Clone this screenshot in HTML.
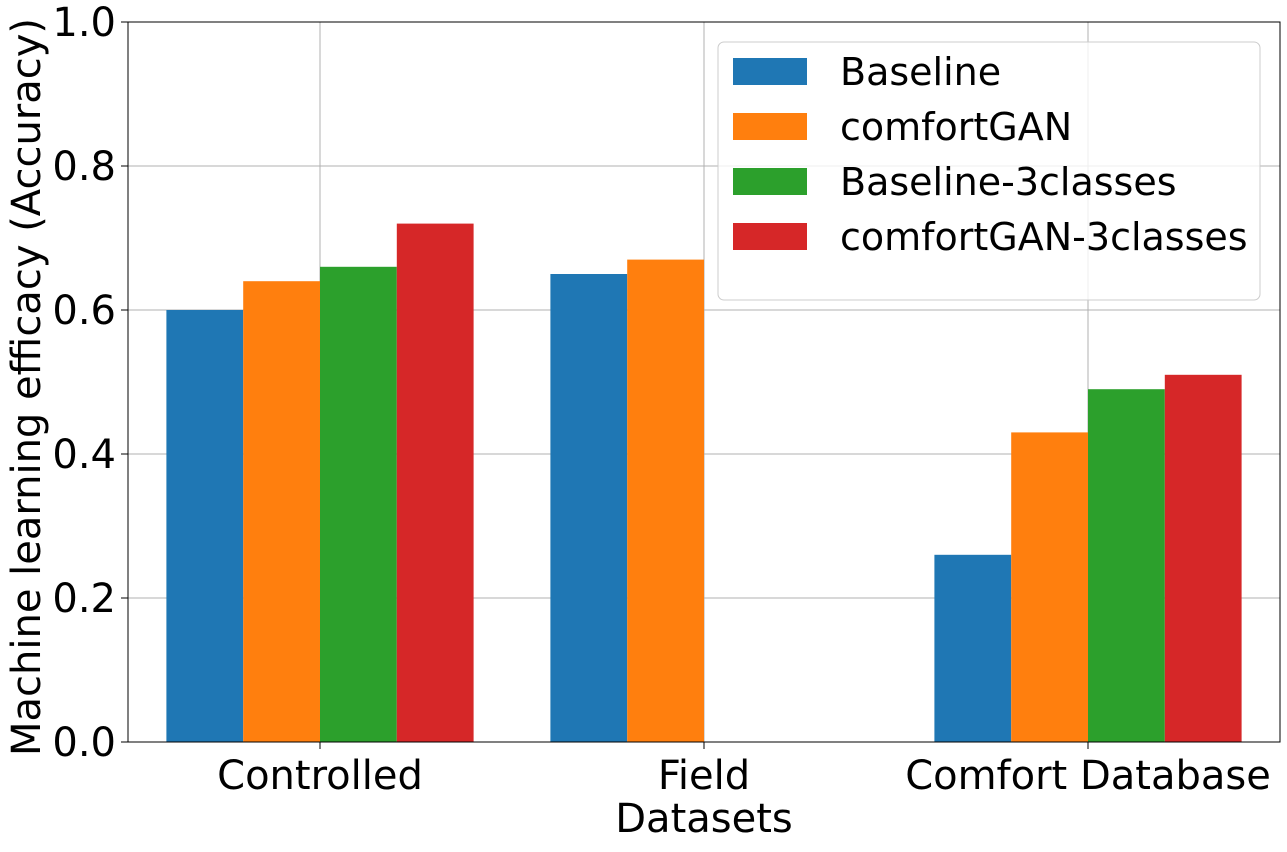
<!DOCTYPE html>
<html><head><meta charset="utf-8"><style>
body{margin:0;background:#fff}
text{font-family:"DejaVu Sans","Liberation Sans",sans-serif;fill:#000}
</style></head><body>
<svg id="chart" width="1287" height="847" xmlns="http://www.w3.org/2000/svg">
<g id="grid"></g>
<g id="bars"></g>
<rect x="128" y="22" width="1152" height="720" fill="none" stroke="#000" stroke-width="1"/>
<g id="axes"></g>
<text x="704" y="832" font-size="40" text-anchor="middle">Datasets</text>
<text transform="translate(40,387) rotate(-90)" font-size="40" text-anchor="middle">Machine learning efficacy (Accuracy)</text>
<g id="legend"></g>
</svg>
<script>
const categories=["Controlled","Field","Comfort Database"];
const seriesNames=["Baseline","comfortGAN","Baseline-3classes","comfortGAN-3classes"];
const baseline=[0.60,0.65,0.26];
const comfortGAN=[0.64,0.67,0.43];
const baseline3=[0.66,0,0.49];
const comfortGAN3=[0.72,0,0.51];
const yTicks=[0.0,0.2,0.4,0.6,0.8,1.0];
const colors=["#1f77b4","#ff7f0e","#2ca02c","#d62728"];
const series=[baseline,comfortGAN,baseline3,comfortGAN3];
const L=128,R=1280,T=22,B=742;
const xs=v=>L+(v+0.5)/3*(R-L);
const ys=v=>B-v*(B-T);
const NS="http://www.w3.org/2000/svg";
function mk(tag,attrs,parent){const e=document.createElementNS(NS,tag);for(const k in attrs)e.setAttribute(k,attrs[k]);parent.appendChild(e);return e;}
const grid=document.getElementById('grid'),bars=document.getElementById('bars'),axes=document.getElementById('axes'),leg=document.getElementById('legend');
yTicks.forEach(t=>{
 const g=mk('line',{x1:L,x2:R,y1:ys(t),y2:ys(t),stroke:'#b0b0b0','stroke-width':1},grid);
 
 
 const tk=mk('line',{x1:L-7,x2:L,y1:ys(t),y2:ys(t),stroke:'#000'},axes);
 
 
 const tx=mk('text',{x:L-12,y:ys(t)+14,'font-size':40,'text-anchor':'end'},axes);
 tx.textContent=t.toFixed(1);
 
 
});
categories.forEach((c,i)=>{
 const g=mk('line',{x1:xs(i),x2:xs(i),y1:T,y2:B,stroke:'#b0b0b0','stroke-width':1},grid);
 
 
 const tk=mk('line',{x1:xs(i),x2:xs(i),y1:B,y2:B+7,stroke:'#000'},axes);
 
 
 const tx=mk('text',{x:xs(i),y:789,'font-size':40,'text-anchor':'middle'},axes);
 tx.textContent=c;
 
 
});
series.forEach((s,j)=>{
 s.forEach((v,i)=>{
  const x0=xs(i-0.4+0.2*j),x1=xs(i-0.2+0.2*j);
  const r=mk('rect',{x:x0,y:ys(v),width:x1-x0,height:B-ys(v),fill:colors[j]},bars);
  
  
 });
});
const box=mk('rect',{x:718,y:42,width:542,height:258,rx:6,fill:'#fff','fill-opacity':0.8,stroke:'#ccc'},leg);


seriesNames.forEach((n,j)=>{
 const yy=72+55*j;
 const p=mk('rect',{x:733,y:yy-14,width:74,height:27,fill:colors[j]},leg);
 
 
 const t=mk('text',{x:840,y:yy+13,'font-size':38},leg);
 t.textContent=n;
 
 
});
</script>
</body></html>
